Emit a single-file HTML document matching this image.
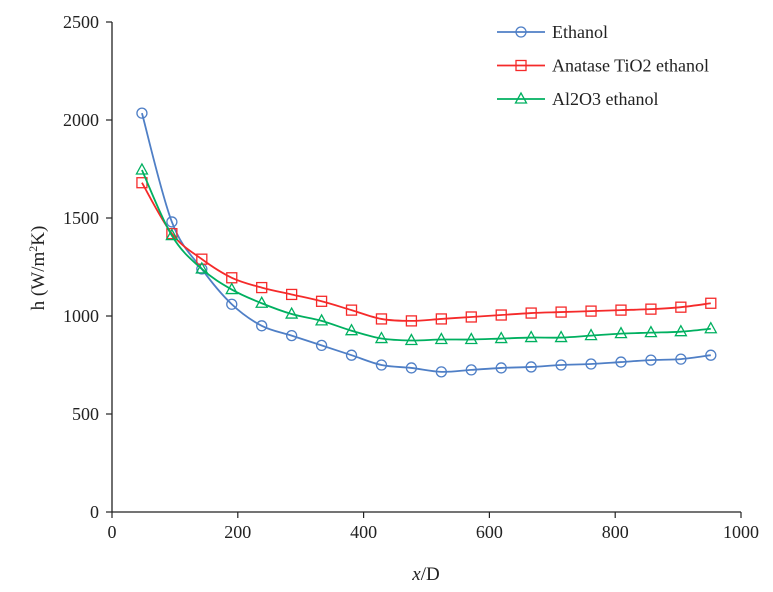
<!DOCTYPE html>
<html><head><meta charset="utf-8"><style>
body{margin:0;background:#fff}
text{font-family:"Liberation Serif",serif;fill:#222}
</style></head><body>
<svg id="chart" width="773" height="587" xmlns="http://www.w3.org/2000/svg"></svg>
<script>
const xValues=[47.6,95.2,142.8,190.4,238,285.6,333.2,380.8,428.4,476,523.6,571.2,618.8,666.4,714,761.6,809.2,856.8,904.4,952];
const ethanol=[2035,1480,1240,1060,950,900,850,800,750,735,715,725,735,740,750,755,765,775,780,800];
const tio2=[1680,1420,1290,1195,1145,1110,1075,1030,985,975,985,995,1005,1015,1020,1025,1030,1035,1045,1065];
const al2o3=[1745,1410,1240,1135,1065,1010,975,925,885,875,880,880,885,890,890,900,910,915,920,935];
const xTicks=[0,200,400,600,800,1000];
const yTicks=[0,500,1000,1500,2000,2500];
const seriesNames=["Ethanol","Anatase TiO2 ethanol","Al2O3 ethanol"];

const svg=document.getElementById('chart');
const NS='http://www.w3.org/2000/svg';
const X0=112,X1=741;
const X=v=>X0+v*(X1-X0)/1000;
const Y=v=>512-v*(512-22)/2500;
function mk(tag,attrs,parent){const e=document.createElementNS(NS,tag);for(const k in attrs)e.setAttribute(k,attrs[k]);(parent||svg).appendChild(e);return e;}

const axes=mk('g',{});


mk('line',{x1:X0,y1:22,x2:X0,y2:512,stroke:'#222','stroke-width':1.3},axes);
mk('line',{x1:X0,y1:512,x2:X1,y2:512,stroke:'#222','stroke-width':1.3},axes);
yTicks.forEach(t=>{
  mk('line',{x1:106,y1:Y(t),x2:X0,y2:Y(t),stroke:'#222','stroke-width':1.2},axes);
  const tx=mk('text',{x:99,y:Y(t)+6,'text-anchor':'end','font-size':18},axes);
  tx.textContent=t;
  
  
});
xTicks.forEach(t=>{
  mk('line',{x1:X(t),y1:512,x2:X(t),y2:518,stroke:'#222','stroke-width':1.2},axes);
  const tx=mk('text',{x:X(t),y:538,'text-anchor':'middle','font-size':18},axes);
  tx.textContent=t;
  
  
});
const xt=mk('text',{x:426,y:580,'text-anchor':'middle','font-size':19});
xt.innerHTML='<tspan font-style="italic">x</tspan>/D';


const yt=mk('text',{x:0,y:0,'text-anchor':'middle','font-size':19,transform:'translate(44,268) rotate(-90)'});
yt.innerHTML='h (W/m<tspan font-size="12" dy="-7">2</tspan><tspan dy="7">K)</tspan>';



function marker(g,type,x,y,c){
  if(type==='circle')mk('circle',{cx:x,cy:y,r:5,fill:'none',stroke:c,'stroke-width':1.3},g);
  else if(type==='square')mk('rect',{x:x-5,y:y-5,width:10,height:10,fill:'none',stroke:c,'stroke-width':1.3},g);
  else mk('polygon',{points:`${x},${y-6} ${x-5.5},${y+4} ${x+5.5},${y+4}`,fill:'none',stroke:c,'stroke-width':1.3},g);
}
function curve(pts){
  let d=`M${pts[0][0]},${pts[0][1]}`;
  for(let i=0;i<pts.length-1;i++){
    const p0=pts[Math.max(0,i-1)],p1=pts[i],p2=pts[i+1],p3=pts[Math.min(pts.length-1,i+2)];
    const t=0.17;
    d+=` C${p1[0]+(p2[0]-p0[0])*t},${p1[1]+(p2[1]-p0[1])*t} ${p2[0]-(p3[0]-p1[0])*t},${p2[1]-(p3[1]-p1[1])*t} ${p2[0]},${p2[1]}`;
  }
  return d;
}
const defs=[[ethanol,'#4f7fc6','circle','series-ethanol'],[tio2,'#f52a2a','square','series-anatase-tio2'],[al2o3,'#00b060','triangle','series-al2o3']];
defs.forEach(([vals,c,m,name])=>{
  const g=mk('g',{});
  
  
  const pts=vals.map((v,i)=>[X(xValues[i]),Y(v)]);
  mk('path',{d:curve(pts),fill:'none',stroke:c,'stroke-width':1.8},g);
  pts.forEach(p=>marker(g,m,p[0],p[1],c));
});
defs.forEach(([vals,c,m,name],i)=>{
  const g=mk('g',{});
  
  
  const y=32+i*33.5;
  mk('line',{x1:497,y1:y,x2:545,y2:y,stroke:c,'stroke-width':1.8},g);
  marker(g,m,521,y,c);
  const t=mk('text',{x:552,y:y+6,'font-size':18},g);
  t.textContent=seriesNames[i];
});
</script>
</body></html>
